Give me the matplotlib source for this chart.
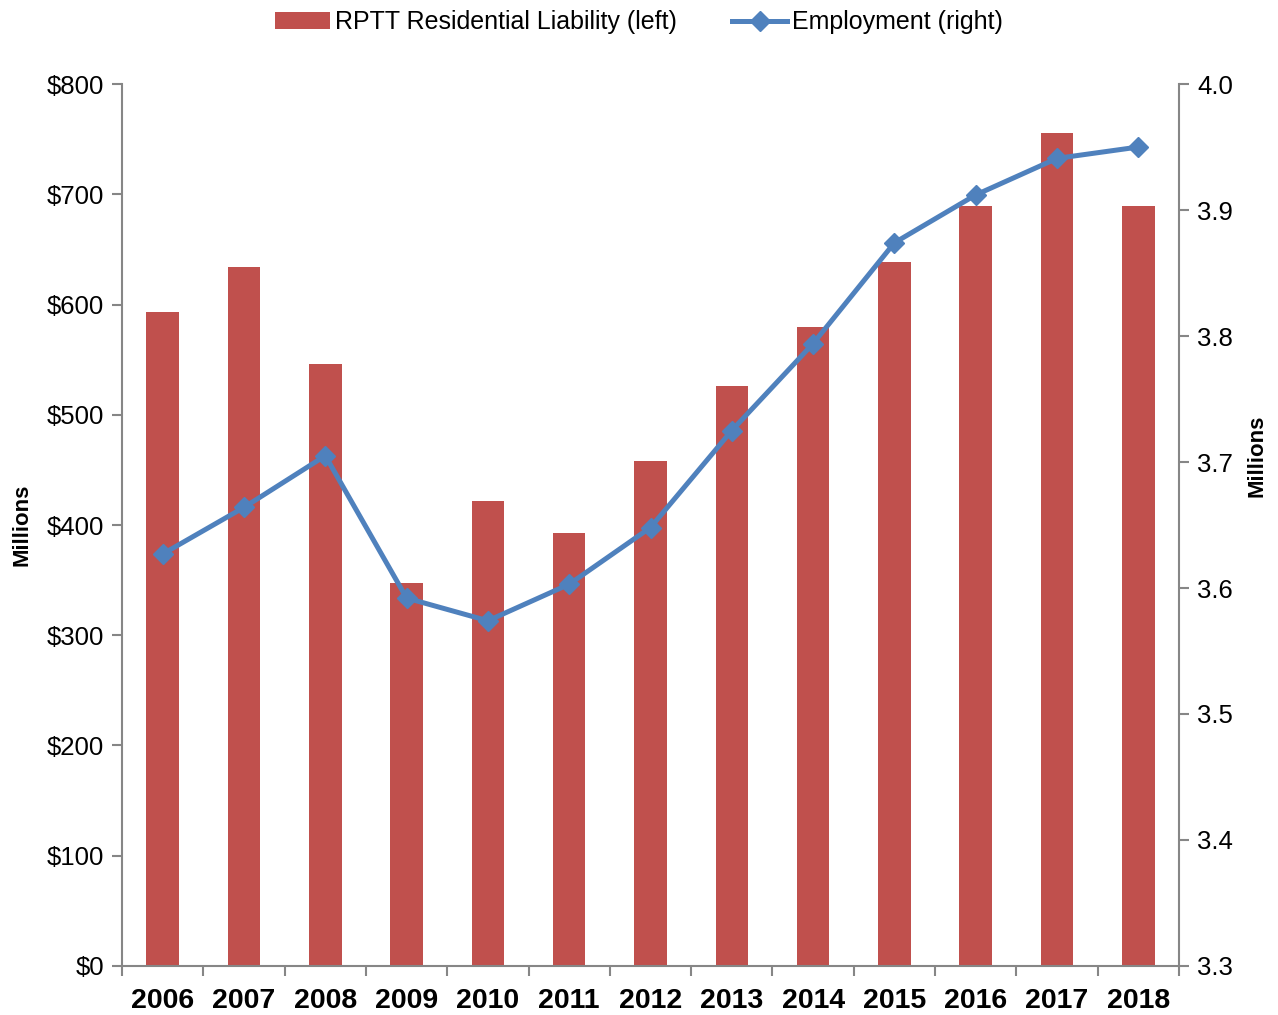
import matplotlib.pyplot as plt
import numpy as np

plt.rcParams['font.family'] = ['Liberation Sans', 'DejaVu Sans']

years = ['2006', '2007', '2008', '2009', '2010', '2011', '2012',
         '2013', '2014', '2015', '2016', '2017', '2018']
rptt = [593, 634, 546, 347, 422, 393, 458, 526, 580, 639, 689, 756, 689]
employment = [3.627, 3.664, 3.705, 3.592, 3.574, 3.603, 3.648,
              3.725, 3.794, 3.874, 3.912, 3.941, 3.950]

bar_color = '#C0504D'
line_color = '#4F81BD'
axis_color = '#868686'

fig = plt.figure(figsize=(12.78, 10.15), dpi=100)
ax = fig.add_axes([0.0955, 0.0483, 0.827, 0.8689])
ax2 = ax.twinx()

x = np.arange(len(years))
bars = ax.bar(x, rptt, width=0.4, color=bar_color, zorder=2,
              label='RPTT Residential Liability (left)')
line, = ax2.plot(x, employment, color=line_color, lw=3.6, marker='D',
                 markersize=10, label='Employment (right)', zorder=3)

ax.set_xlim(-0.5, len(years) - 0.5)
ax.set_ylim(0, 800)
ax.set_yticks(range(0, 801, 100))
ax.set_yticklabels([f'${v}' for v in range(0, 801, 100)])
ax2.set_ylim(3.3, 4.0)
ax2.set_yticks(np.arange(3.3, 4.01, 0.1))
ax2.set_yticklabels([f'{v:.1f}' for v in np.arange(3.3, 4.01, 0.1)])

# category ticks sit between the bars, labels centred under them
ax.set_xticks(np.arange(-0.5, len(years), 1.0))
ax.set_xticklabels([])
ax.set_xticks(x, minor=True)
ax.set_xticklabels(years, minor=True, fontsize=20.5, fontweight='bold')
ax.tick_params(axis='x', which='minor', length=0, pad=16)
ax.tick_params(axis='x', which='major', length=7, color=axis_color, width=1.5)
ax.tick_params(axis='y', labelsize=18.5, length=7, color=axis_color, width=1.5, pad=6)
ax2.tick_params(axis='y', labelsize=18.5, length=7, color=axis_color, width=1.5, pad=6)

for a in (ax, ax2):
    a.spines['top'].set_visible(False)
    for s in ('left', 'right', 'bottom'):
        a.spines[s].set_color(axis_color)
        a.spines[s].set_linewidth(1.5)
ax2.spines['left'].set_visible(False)
ax2.spines['bottom'].set_visible(False)
ax.spines['right'].set_visible(False)

ax.set_ylabel('Millions', fontsize=16, fontweight='bold', labelpad=10)
ax2.set_ylabel('Millions', fontsize=16, fontweight='bold', rotation=90)
ax2.yaxis.set_label_coords(1.064, 0.579)

fig.legend([bars, line], ['RPTT Residential Liability (left)', 'Employment (right)'],
           loc='upper center', bbox_to_anchor=(0.5, 1.012), ncol=2, frameon=False,
           fontsize=18, handlelength=2.2, columnspacing=2.2, handletextpad=0.2)

fig.savefig('out.png', dpi=100)
